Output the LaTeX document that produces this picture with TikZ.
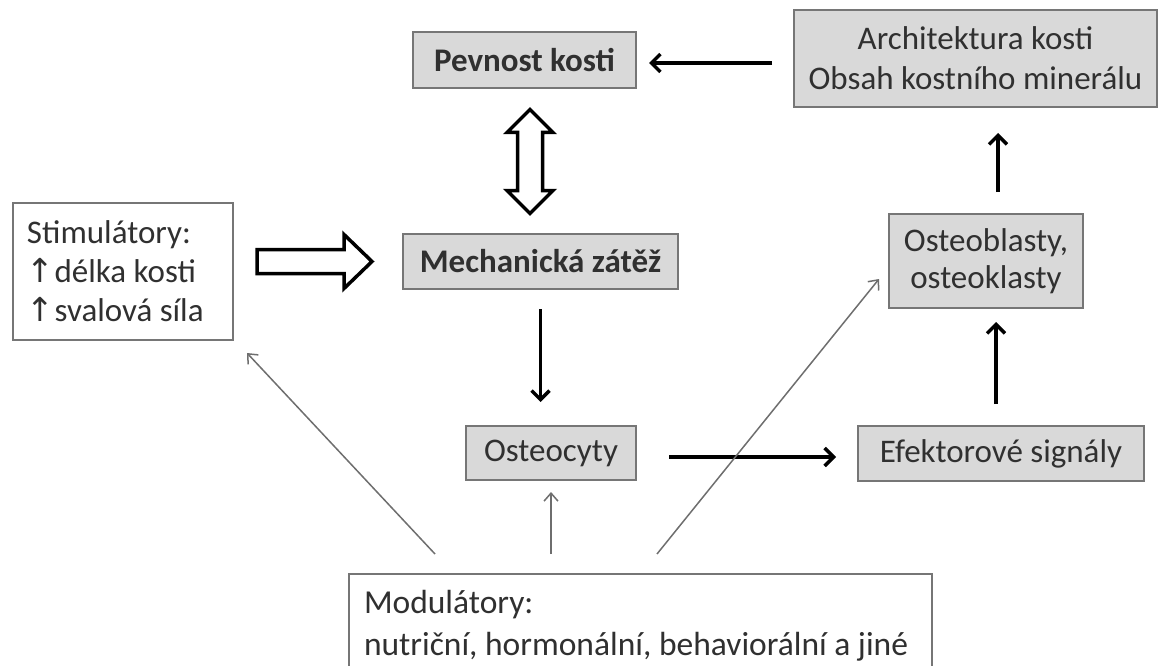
\documentclass[tikz,border=0pt]{standalone}
\usepackage{fontspec}
\setmainfont{Carlito}[WordSpace={1,0,0}]
\newfontfamily\symfont{DejaVu Sans}
\usetikzlibrary{arrows.meta,calc}
\definecolor{boxfill}{HTML}{D9D9D9}
\definecolor{boxline}{HTML}{767676}
\definecolor{txt}{HTML}{303030}
\definecolor{thinc}{HTML}{6E6E6E}
\hyphenpenalty=10000
\begin{document}
\begin{tikzpicture}[x=1pt,y=-1pt,
  every node/.style={font=\fontsize{33}{40}\selectfont, text=txt},
  graybox/.style={draw=boxline, line width=2pt, fill=boxfill, inner sep=0pt},
  whitebox/.style={draw=boxline, line width=2pt, fill=white},
  thickarrow/.style={draw=black, line width=3.4pt, -{Straight Barb[length=9pt,width=18pt]}},
  thinarrow/.style={draw=thinc, line width=1.5pt, -{Straight Barb[length=8pt,width=14pt]}},
  hollow/.style={draw=black, line width=3.5pt, fill=white, line join=miter}]
\useasboundingbox (0,0) rectangle (1159,666);
% boxes
\node[graybox, minimum width=223pt, minimum height=56pt, font=\fontsize{33}{40}\selectfont\bfseries] (pev) at (524.5,60) {Pevnost kosti};
\node[graybox, minimum width=363pt, minimum height=97pt, align=center] (arch) at (975.5,58.5) {Architektura kosti\\Obsah kostního minerálu};
\node[graybox, minimum width=275pt, minimum height=55pt, font=\fontsize{33}{40}\selectfont\bfseries] (mech) at (540.5,261.5) {Mechanická zátěž};
\node[whitebox, text width=192pt, inner xsep=14pt, minimum height=137pt, align=flush left, font=\fontsize{33}{39}\selectfont] (stim) at (123,271.5) {Stimulátory:\\{\symfont ↑}délka kosti\\{\symfont ↑}svalová síla};
\node[graybox, minimum width=170pt, minimum height=54pt] (ocy) at (551,453) {Osteocyty};
\node[graybox, minimum width=286pt, minimum height=55pt] (efk) at (1001,453.5) {Efektorové signály};
\node[graybox, minimum width=194pt, minimum height=94pt, align=center, font=\fontsize{33}{37}\selectfont] (obl) at (986,261) {Osteoblasty,\\osteoklasty};
\node[whitebox, anchor=north west, text width=553pt, inner xsep=15pt, inner ysep=16pt, align=flush left, font=\fontsize{33.5}{42}\selectfont] (mod) at (348,573) {Modulátory:\\nutriční, hormonální, behaviorální a jiné};
% connectors
\draw[thickarrow] ($(pev.east -| arch.west)+(-21,3)$) -- ($(pev.east)+(12,3)$);
\draw[hollow] ($(pev.south)+(5.5,20.5)$) -- ++(23,23) -- ++(-10.5,0) -- ++(0,58) -- ++(10.5,0) -- ++(-23,23) -- ++(-23,-23) -- ++(10.5,0) -- ++(0,-58) -- ++(-10.5,0) -- cycle;
\draw[hollow] ($(stim.east)+(23,-22)$) -- ++(87,0) -- ++(0,-15) -- ++(28,27) -- ++(-28,27) -- ++(0,-15) -- ++(-87,0) -- cycle;
\draw[thickarrow, shorten <=19pt, shorten >=23pt] (mech.south) -- (mech.south |- ocy.north);
\draw[thickarrow, shorten <=32pt, shorten >=21pt] ($(ocy.east)+(0,4)$) -- ($(efk.west)+(0,3.5)$);
\coordinate (a6) at ($(efk.north)+(-5,-21)$);
\draw[thickarrow, shorten >=13pt] (a6) -- (a6 |- obl.south);
\coordinate (a7) at ($(obl.north)+(12,-21)$);
\draw[thickarrow, shorten >=25pt] (a7) -- (a7 |- arch.south);
\draw[thinarrow] ($(mod.north west)+(87,-19)$) -- ($(stim.south east)+(13,12)$);
\draw[thinarrow] ($(mod.north west)+(203,-19)$) -- ($(ocy.south)+(0,11)$);
\draw[thinarrow] ($(mod.north west)+(309,-19)$) -- ($(obl.south west)+(-9,-30)$);
\end{tikzpicture}
\end{document}
